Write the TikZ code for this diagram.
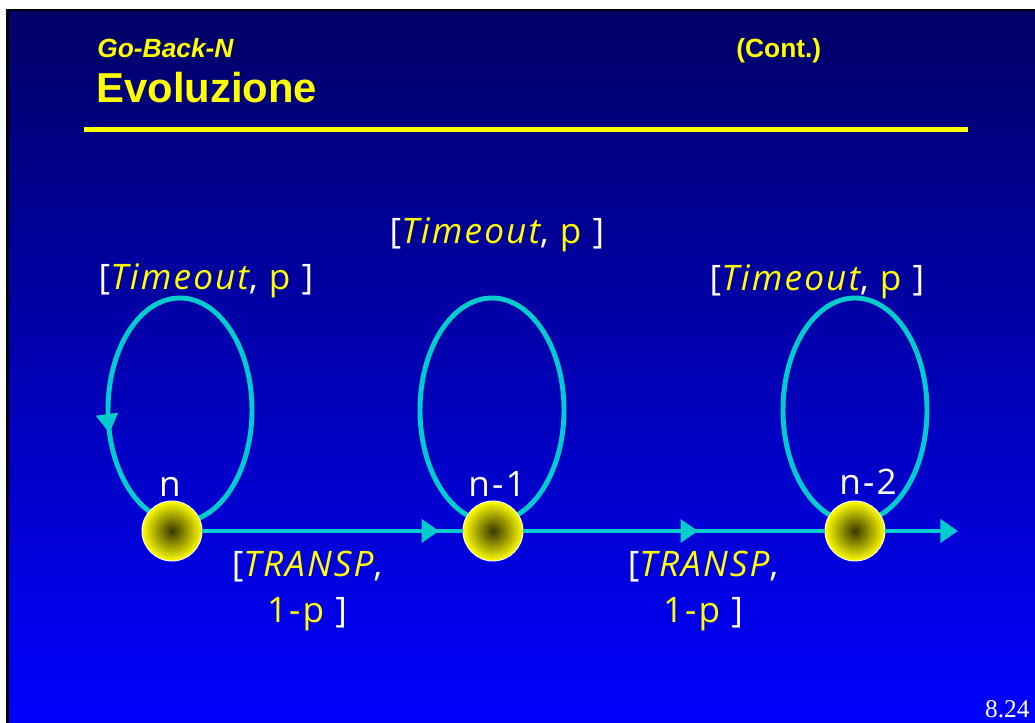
\documentclass[tikz,border=0pt]{standalone}
\usepackage{fontspec}
\setmainfont{Liberation Sans}
\newfontfamily\labelfont[LetterSpace=6]{Open Sans}
\newfontfamily\pagefont{Liberation Serif}
\usepackage{xcolor}
\usetikzlibrary{arrows.meta, decorations.markings}

\definecolor{slidenavy}{RGB}{0,0,102}
\definecolor{slideblue}{RGB}{0,0,255}
\definecolor{slideyellow}{RGB}{255,255,0}
\definecolor{loopcyan}{RGB}{0,204,204}

\pgfdeclarelayer{backdrop}
\pgfdeclarelayer{loops}
\pgfsetlayers{backdrop,loops,main}

\tikzset{
  ball/.style={circle, minimum size=1.2cm, inner sep=0pt, draw=white, line width=0.5pt,
    inner color=slideyellow!22!black, outer color=slideyellow},
  flow/.style={draw=loopcyan, line width=2.8pt},
  midarrow/.style={postaction={decorate, decoration={markings,
    mark=at position #1 with {\arrow{Triangle[length=10pt,width=13pt]}}}}},
  backarrow/.style={postaction={decorate, decoration={markings,
    mark=at position #1 with {\arrowreversed{Triangle[length=11pt,width=12pt]}}}}},
  heading/.style={text=slideyellow, inner sep=0pt},
  statelbl/.style={text=white, inner sep=0pt, font=\labelfont\fontsize{20}{26}\selectfont},
  edgelbl/.style={text=white, inner sep=0pt, align=center, font=\labelfont\fontsize{20}{26}\selectfont}
}
\newcommand{\ylw}[1]{\textcolor{slideyellow}{#1}}

\begin{document}
\begin{tikzpicture}[x=0.02cm, y=-0.02cm]
  \useasboundingbox (0,0) rectangle (1035,723);
  % slide background and frame
  \begin{pgfonlayer}{backdrop}
    \fill[top color=slidenavy, bottom color=slideblue] (9,11) rectangle (1035,723);
    \draw[black, line width=1.4pt] (7.5,723) -- (7.5,10) -- (1035,10);
  \end{pgfonlayer}
  % header
  \node[heading, anchor=base west, font=\bfseries\itshape\fontsize{15}{18}\selectfont] (sub) at (97,58) {Go-Back-N};
  \node[heading, anchor=base west, font=\bfseries\fontsize{15}{18}\selectfont] (cont) at (736,58) {(Cont.)};
  \node[heading, anchor=base west, font=\bfseries\fontsize{23.8}{27}\selectfont] (title) at (96,103) {Evoluzione};
  \draw[slideyellow, line width=2.8pt] (84,129.5) -- (968,129.5);
  % states
  \node[ball] (n)  at (172,531) {};
  \node[ball] (n1) at (493,531) {};
  \node[ball] (n2) at (855,531) {};
  \coordinate (exit) at (958,531);
  \node[statelbl, anchor=base] (ln)  at (170,496) {n};
  \node[statelbl, anchor=base] (ln1) at (497,496) {n-1};
  \node[statelbl, anchor=base] (ln2) at (868,494) {n-2};
  % self loops (timeout)
  \begin{pgfonlayer}{loops}
    \draw[flow, backarrow=0.46] ([shift={(8,-121)}]n.center) ellipse [x radius=72, y radius=112];
    \draw[flow] ([shift={(-1,-121)}]n1.center) ellipse [x radius=72, y radius=112];
    \draw[flow] ([shift={(0,-121)}]n2.center) ellipse [x radius=72, y radius=112];
  \end{pgfonlayer}
  \node[statelbl, anchor=base] (tn)  at (206,289) {[\ylw{\itshape Timeout}, \ylw{p} ]};
  \node[statelbl, anchor=base] (tn1) at (497,243) {[\ylw{\itshape Timeout}, \ylw{p} ]};
  \node[statelbl, anchor=base] (tn2) at (817,290) {[\ylw{\itshape Timeout}, \ylw{p} ]};
  % transitions (transmission)
  \draw[flow, midarrow=0.91] (n) -- (n1);
  \draw[flow, midarrow=0.58] (n1) -- (n2);
  \draw[flow, -{Triangle[length=10pt,width=13pt]}] (n2) -- (exit);
  \node[edgelbl] (e1) at (307,591) {[\ylw{\itshape TRANSP},\\\ylw{1-p} ]};
  \node[edgelbl] (e2) at (703,591) {[\ylw{\itshape TRANSP},\\\ylw{1-p} ]};
  % page number
  \node[anchor=base east, inner sep=0pt, text=white, font=\pagefont\fontsize{14.5}{17}\selectfont] (page) at (1030,717) {8.24};
\end{tikzpicture}
\end{document}
